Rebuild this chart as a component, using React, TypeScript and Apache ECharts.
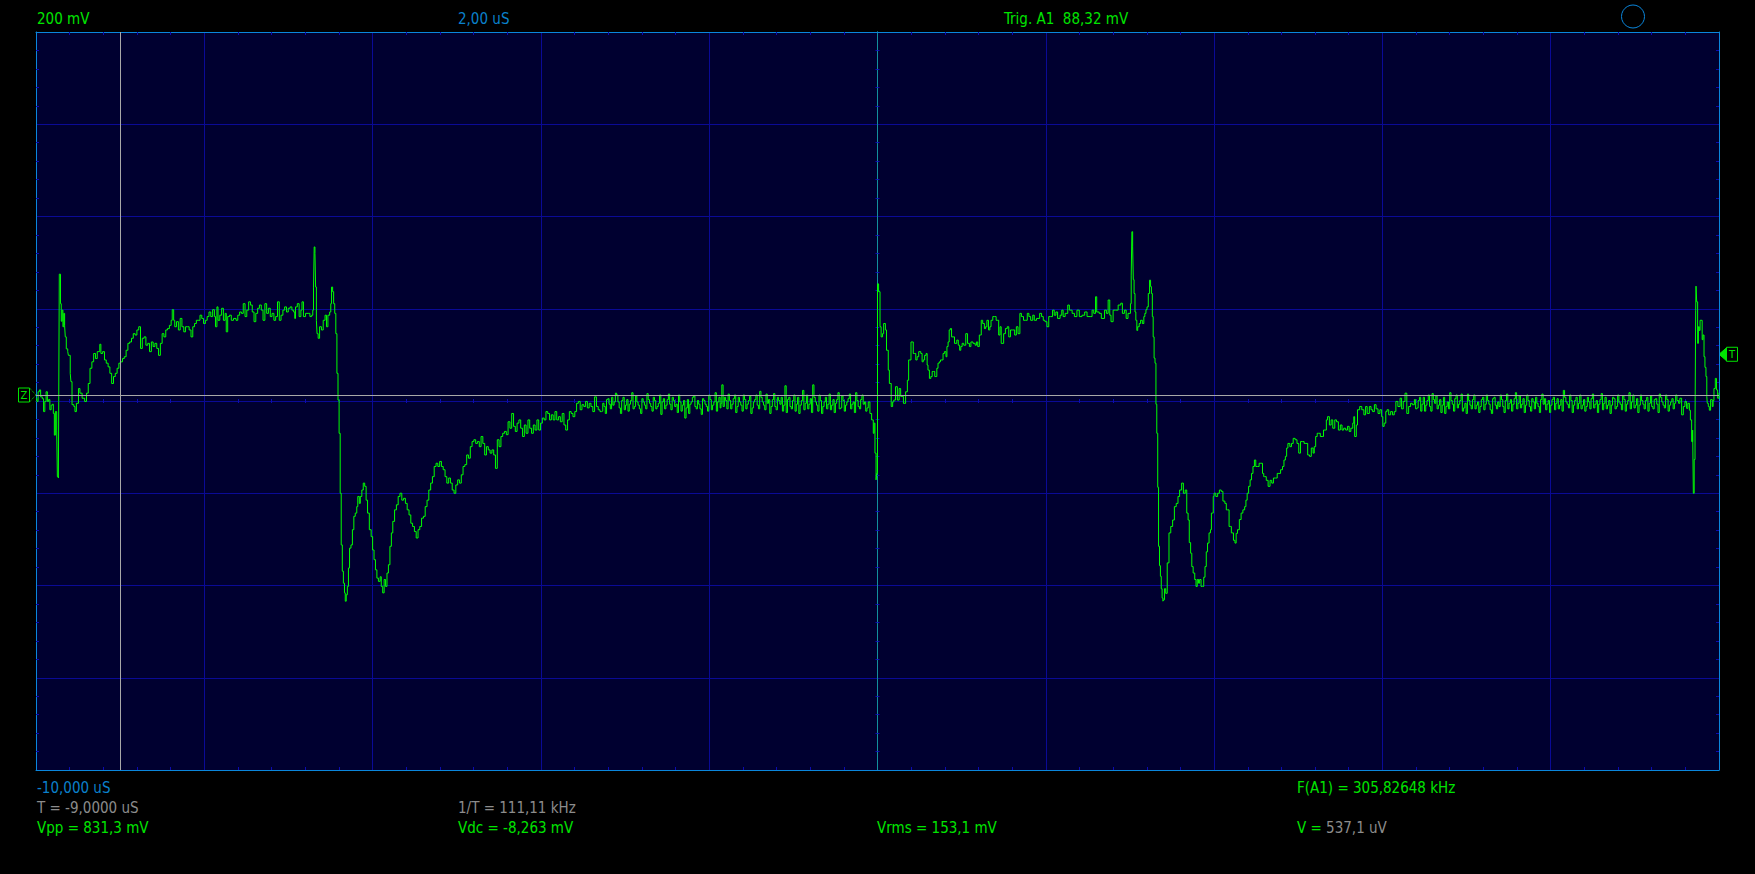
import React, { useEffect, useRef } from "react";
import * as echarts from "echarts";

type Pt = [number, number];

// ---- time base / vertical scale (oscilloscope settings) ----
const TIME_MIN = -10; // us
const TIME_MAX = 10;
const TIME_DIV = 2; // 2,00 uS / div
const VOLT_DIV = 200; // 200 mV / div
const VOLT_RANGE = 800; // 4 divisions each side of the screen centre
const CH_ZERO_OFFSET = 13; // mV: channel zero sits slightly above the screen centre
const CURSOR_T = -9; // us
const CURSOR_V = 0.5371; // mV
const TRIGGER_MV = 88.32;

// ---- trace (t in us, v in mV) ----
const preTrigger: Pt[] = [
  [-10.0, -8], [-9.99, -14], [-9.975, 7], [-9.96, 11], [-9.945, -4], [-9.925, -8], [-9.91, -36],
  [-9.895, -14], [-9.88, 7], [-9.865, -14], [-9.85, -10], [-9.835, -32], [-9.82, -22], [-9.805, -20],
  [-9.794, -40], [-9.782, -87], [-9.77, -36], [-9.754, -76], [-9.746, -177], [-9.734, -180], [-9.73, -14],
];

const firstPulse: Pt[] = [
  [-9.723, 262], [-9.709, 198], [-9.7, 160], [-9.69, 184], [-9.68, 148], [-9.67, 177], [-9.66, 150],
  [-9.652, 126], [-9.64, 100], [-9.623, 94], [-9.615, 86], [-9.593, 47], [-9.585, 29], [-9.572, -21],
  [-9.55, -25], [-9.537, -36], [-9.52, -18], [-9.495, 14], [-9.478, 4], [-9.452, -7], [-9.422, -14],
  [-9.4, 4], [-9.379, 25], [-9.358, 58], [-9.336, 72], [-9.315, 90], [-9.293, 79], [-9.272, 94],
  [-9.242, 110], [-9.229, 90], [-9.208, 94], [-9.186, 76], [-9.165, 69], [-9.143, 61], [-9.122, 47],
  [-9.101, 25], [-9.079, 40], [-9.058, 47], [-9.036, 58], [-9.015, 69], [-8.994, 72], [-8.972, 79],
  [-8.951, 83], [-8.929, 97], [-8.908, 112], [-8.887, 115], [-8.865, 123], [-8.844, 133], [-8.822, 130],
  [-8.801, 141], [-8.779, 148], [-8.758, 101], [-8.737, 123], [-8.715, 126], [-8.694, 108], [-8.672, 112],
  [-8.651, 94], [-8.629, 115], [-8.608, 105], [-8.587, 112], [-8.565, 101], [-8.544, 86], [-8.522, 112],
  [-8.501, 133], [-8.48, 126], [-8.458, 141], [-8.437, 144], [-8.415, 151], [-8.394, 162], [-8.381, 185],
  [-8.364, 162], [-8.351, 148], [-8.33, 159], [-8.308, 141], [-8.287, 166], [-8.266, 148], [-8.244, 137],
  [-8.223, 148], [-8.201, 148], [-8.18, 141], [-8.158, 126], [-8.137, 148], [-8.116, 155], [-8.094, 162],
  [-8.073, 162], [-8.051, 173], [-8.03, 166], [-8.009, 155], [-7.987, 162], [-7.966, 170], [-7.944, 180],
  [-7.923, 170], [-7.901, 185], [-7.88, 170], [-7.867, 148], [-7.85, 191], [-7.837, 162], [-7.816, 173],
  [-7.794, 188], [-7.773, 162], [-7.752, 177], [-7.739, 137], [-7.722, 170], [-7.7, 173], [-7.679, 162],
  [-7.653, 166], [-7.623, 162], [-7.602, 173], [-7.58, 180], [-7.559, 177], [-7.537, 198], [-7.516, 170],
  [-7.495, 184], [-7.473, 202], [-7.452, 195], [-7.43, 180], [-7.409, 159], [-7.388, 177], [-7.366, 188],
  [-7.345, 195], [-7.323, 184], [-7.302, 162], [-7.28, 198], [-7.259, 177], [-7.238, 188], [-7.216, 170],
  [-7.195, 177], [-7.173, 162], [-7.152, 170], [-7.13, 202], [-7.109, 162], [-7.088, 173], [-7.066, 184],
  [-7.045, 191], [-7.023, 180], [-7.002, 188], [-6.98, 191], [-6.959, 184], [-6.938, 180], [-6.925, 166],
  [-6.916, 191], [-6.895, 198], [-6.873, 170], [-6.852, 184], [-6.839, 202], [-6.822, 170], [-6.797, 177],
  [-6.766, 177], [-6.745, 170], [-6.724, 173], [-6.711, 184],
];

const firstEdge: Pt[] = [
  [-6.702, 234], [-6.694, 321], [-6.685, 307], [-6.677, 234], [-6.668, 162], [-6.66, 133], [-6.647, 123],
  [-6.63, 148], [-6.608, 141], [-6.587, 162], [-6.565, 173], [-6.548, 148], [-6.531, 173], [-6.51, 180],
  [-6.497, 198], [-6.488, 234], [-6.475, 224], [-6.463, 198], [-6.45, 177], [-6.437, 133], [-6.424, 47],
  [-6.411, -11], [-6.398, -83], [-6.385, -213], [-6.373, -325], [-6.36, -382], [-6.347, -408], [-6.334, -429],
  [-6.325, -447], [-6.313, -433], [-6.3, -415], [-6.287, -375], [-6.274, -332], [-6.257, -325], [-6.24, -292],
  [-6.223, -263], [-6.206, -256], [-6.188, -242], [-6.176, -220], [-6.158, -235], [-6.146, -220], [-6.128, -206],
  [-6.111, -191], [-6.094, -198], [-6.077, -228], [-6.06, -256], [-6.039, -292], [-6.017, -307], [-6.0, -336],
  [-5.983, -357], [-5.966, -379], [-5.949, -397], [-5.931, -404], [-5.91, -394], [-5.897, -415], [-5.88, -429],
  [-5.863, -400], [-5.846, -415], [-5.829, -386], [-5.812, -368], [-5.794, -328], [-5.777, -299], [-5.76, -274],
  [-5.739, -249], [-5.717, -238], [-5.696, -220], [-5.675, -213], [-5.653, -228], [-5.632, -224], [-5.61, -235],
  [-5.589, -249], [-5.567, -260], [-5.546, -278], [-5.525, -285], [-5.503, -296], [-5.482, -310], [-5.46, -292],
  [-5.439, -285], [-5.418, -267], [-5.396, -263], [-5.375, -242], [-5.353, -228], [-5.332, -206], [-5.31, -191],
  [-5.289, -177], [-5.268, -155], [-5.246, -148], [-5.225, -155], [-5.203, -144], [-5.182, -155], [-5.161, -162],
  [-5.139, -177], [-5.118, -191], [-5.096, -180], [-5.075, -191], [-5.054, -206], [-5.032, -213], [-5.011, -195],
  [-4.989, -184], [-4.968, -191], [-4.946, -173], [-4.925, -155], [-4.904, -151], [-4.882, -130], [-4.861, -137],
  [-4.839, -112], [-4.818, -101], [-4.797, -97], [-4.775, -105], [-4.754, -101], [-4.732, -112], [-4.711, -90],
  [-4.69, -105], [-4.668, -130], [-4.647, -112], [-4.625, -119], [-4.604, -126], [-4.582, -119], [-4.561, -130],
  [-4.54, -159], [-4.518, -97], [-4.497, -112], [-4.475, -90], [-4.454, -83], [-4.433, -79], [-4.411, -86],
  [-4.39, -58], [-4.368, -72], [-4.347, -40], [-4.325, -68], [-4.304, -79], [-4.283, -61], [-4.261, -54],
  [-4.24, -72], [-4.218, -90], [-4.197, -65], [-4.176, -83], [-4.154, -54], [-4.133, -72], [-4.111, -83],
  [-4.09, -65], [-4.069, -76], [-4.047, -54], [-4.026, -76], [-4.004, -61], [-3.983, -50], [-3.961, -54],
  [-3.94, -36], [-3.919, -40], [-3.897, -54], [-3.876, -43], [-3.854, -54], [-3.833, -36], [-3.812, -54],
  [-3.79, -47], [-3.769, -58], [-3.747, -40], [-3.726, -65], [-3.705, -76], [-3.683, -54], [-3.662, -36],
  [-3.64, -40], [-3.619, -47], [-3.597, -36], [-3.576, -18], [-3.555, -14], [-3.533, -32], [-3.512, -21],
  [-3.49, -25], [-3.469, -14], [-3.448, -28], [-3.426, -18], [-3.405, -25], [-3.383, -36], [-3.362, -4],
  [-3.34, -25], [-3.319, -32], [-3.298, -36],
];

const baseline1: Pt[] = [
  [-3.28, -35], [-3.25, -25], [-3.22, -10], [-3.19, -20], [-3.16, -5], [-3.13, -15], [-3.1, 0], [-3.07, -28],
  [-3.04, -12], [-3.01, -32], [-2.98, -10], [-2.95, -20], [-2.92, 5], [-2.89, -25], [-2.86, -15], [-2.83, -30],
  [-2.8, -8], [-2.77, -22], [-2.74, 3], [-2.71, -18], [-2.68, -35], [-2.65, -12], [-2.62, -25], [-2.59, 0],
  [-2.56, -15], [-2.53, -30], [-2.5, -10], [-2.47, -20], [-2.44, -5], [-2.41, -25], [-2.38, -38], [-2.35, -15],
  [-2.32, -22], [-2.29, -50], [-2.26, -10], [-2.23, -20], [-2.2, -5], [-2.17, -25], [-2.14, -12], [-2.11, -30],
  [-2.08, -8], [-2.05, -20], [-2.02, -35], [-1.99, -10], [-1.96, -22], [-1.93, 5], [-1.9, -15], [-1.87, -28],
  [-1.85, 22], [-1.82, -5], [-1.79, -30], [-1.76, -12], [-1.73, -20], [-1.7, 0], [-1.67, -25], [-1.64, -15],
  [-1.61, -35], [-1.58, -10], [-1.55, -20], [-1.52, -3], [-1.49, -28], [-1.46, -10], [-1.43, -22], [-1.4, 8],
  [-1.37, -15], [-1.34, -32], [-1.31, -18], [-1.28, -40], [-1.25, -10], [-1.22, -25], [-1.19, -5], [-1.16, -20],
  [-1.13, -35], [-1.1, 20], [-1.07, -10], [-1.04, -25], [-1.01, -12], [-0.98, -35], [-0.95, -5], [-0.92, -22],
  [-0.89, 10], [-0.86, -18], [-0.83, -30], [-0.8, -8], [-0.77, 22], [-0.74, -15], [-0.71, -35], [-0.68, -12],
  [-0.65, -25], [-0.62, -5], [-0.59, -20], [-0.56, -32], [-0.53, -10], [-0.5, -18], [-0.47, 5], [-0.44, -28],
  [-0.41, -12], [-0.38, -22], [-0.35, -8], [-0.32, -30], [-0.29, -15], [-0.26, 5], [-0.23, -25], [-0.2, -10],
  [-0.17, -20], [-0.14, -35], [-0.11, -15],
];

const baseline1Between: Pt[] = [
  [-3.265, -18], [-3.235, -40], [-3.205, -8], [-3.175, -30], [-3.145, -22], [-3.115, 4], [-3.085, -15],
  [-3.055, -40], [-3.025, -5], [-2.995, -22], [-2.965, -35], [-2.935, -12], [-2.905, -30], [-2.875, -2],
  [-2.845, -22], [-2.815, -40], [-2.785, -15], [-2.755, -30], [-2.725, -10], [-2.695, -25], [-2.665, -5],
  [-2.635, -30], [-2.605, -18], [-2.575, -42], [-2.545, -8], [-2.515, -22], [-2.485, 2], [-2.455, -32],
  [-2.425, -12], [-2.395, -20], [-2.365, 0], [-2.335, -35], [-2.305, -12], [-2.275, -28], [-2.245, -40],
  [-2.215, -15], [-2.185, -2], [-2.155, -30], [-2.125, -20], [-2.095, -42], [-2.065, -12], [-2.035, -25],
  [-2.005, 0], [-1.975, -32], [-1.945, -15], [-1.915, -35], [-1.885, -5], [-1.86, -18], [-1.835, -25],
  [-1.805, -12], [-1.775, 2], [-1.745, -30], [-1.715, -8], [-1.685, -38], [-1.655, -5], [-1.625, -22],
  [-1.595, 0], [-1.565, -30], [-1.535, -12], [-1.505, -40], [-1.475, -15], [-1.445, 0], [-1.415, -30],
  [-1.385, -5], [-1.355, -22], [-1.325, 2], [-1.295, -10], [-1.265, -25], [-1.235, 3], [-1.205, -32],
  [-1.175, -12], [-1.145, -5], [-1.115, -22], [-1.085, -38], [-1.055, -5], [-1.025, -30], [-0.995, 0],
  [-0.965, -20], [-0.935, -40], [-0.905, -12], [-0.875, -32], [-0.845, 0], [-0.815, -20], [-0.785, -38],
  [-0.755, -5], [-0.725, -22], [-0.695, 0], [-0.665, -40], [-0.635, -15], [-0.605, -30], [-0.575, 2],
  [-0.545, -22], [-0.515, -38], [-0.485, -10], [-0.455, -30], [-0.425, -2], [-0.395, -35], [-0.365, -15],
  [-0.335, 2], [-0.305, -20], [-0.275, -38], [-0.245, -12], [-0.215, -30], [-0.185, 0], [-0.155, -15],
  [-0.125, -28],
];

const secondPulse: Pt[] = [
  [-0.09, -40], [-0.07, -54], [-0.05, -83], [-0.04, -61], [-0.03, -126], [-0.017, -184], [-0.01, -170],
  [0.0, 241], [0.013, 224], [0.03, 148], [0.043, 126], [0.06, 133], [0.073, 155], [0.094, 141], [0.107, 97],
  [0.128, 54], [0.141, 25], [0.163, -25], [0.18, -15], [0.193, -11], [0.214, 18], [0.236, -11], [0.257, 14],
  [0.275, -3], [0.291, -3], [0.308, -18], [0.334, 7], [0.355, 32], [0.37, 76], [0.385, 76], [0.398, 115],
  [0.411, 115], [0.425, 90], [0.437, 90], [0.455, 76], [0.471, 83], [0.49, 94], [0.514, 90], [0.53, 72],
  [0.544, 76], [0.56, 86], [0.578, 90], [0.59, 65], [0.6, 54], [0.617, 36], [0.634, 40], [0.65, 51],
  [0.664, 51], [0.68, 40], [0.694, 40], [0.705, 58], [0.719, 69], [0.735, 72], [0.749, 76], [0.765, 76],
  [0.779, 90], [0.795, 94], [0.814, 83], [0.825, 105], [0.839, 115], [0.852, 141], [0.865, 144], [0.88, 126],
  [0.899, 126], [0.915, 112], [0.942, 119], [0.96, 108], [0.976, 97], [0.99, 105], [1.006, 112], [1.025, 108],
  [1.049, 133], [1.07, 112], [1.092, 105], [1.11, 115], [1.135, 112], [1.16, 108], [1.175, 115], [1.191, 105],
  [1.21, 130], [1.221, 130], [1.233, 162], [1.25, 155], [1.27, 144], [1.285, 148], [1.3, 162], [1.319, 141],
  [1.335, 148], [1.349, 162], [1.37, 170], [1.392, 170], [1.41, 162], [1.422, 162], [1.44, 130], [1.456, 148],
  [1.47, 112], [1.499, 133], [1.52, 144], [1.542, 148], [1.56, 126], [1.58, 141], [1.606, 141], [1.63, 130],
  [1.65, 148], [1.67, 133], [1.692, 177], [1.71, 170], [1.735, 162], [1.756, 162], [1.78, 177], [1.799, 170],
  [1.82, 162], [1.845, 173], [1.863, 162], [1.89, 166], [1.927, 177], [1.95, 170], [1.97, 162], [1.99, 159],
  [2.013, 148], [2.035, 170], [2.056, 170], [2.08, 184], [2.1, 173], [2.12, 180], [2.14, 166], [2.17, 173],
  [2.19, 184], [2.206, 170], [2.23, 177], [2.261, 195], [2.28, 184], [2.313, 177], [2.34, 170], [2.37, 184],
  [2.398, 170], [2.43, 173], [2.462, 180], [2.49, 170], [2.527, 170], [2.55, 184], [2.57, 177], [2.591, 213],
  [2.605, 180], [2.634, 177], [2.66, 166], [2.698, 184], [2.72, 177], [2.741, 206], [2.76, 173], [2.775, 159],
  [2.8, 184], [2.827, 184], [2.86, 195], [2.891, 199], [2.91, 177], [2.934, 184], [2.955, 166], [2.977, 177],
  [3.006, 198],
];

const secondEdge: Pt[] = [
  [3.015, 260], [3.023, 354], [3.032, 321], [3.04, 250], [3.049, 220], [3.06, 180], [3.07, 162], [3.082, 140],
  [3.092, 148], [3.11, 155], [3.126, 162], [3.147, 155], [3.165, 170], [3.177, 177], [3.19, 185], [3.203, 191],
  [3.218, 220], [3.233, 249], [3.245, 235], [3.255, 220], [3.266, 170], [3.276, 126], [3.287, 80], [3.298, 69],
  [3.309, -20], [3.319, -83], [3.33, -200], [3.34, -328], [3.351, -370], [3.362, -393], [3.372, -420],
  [3.382, -440], [3.392, -447], [3.4, -444], [3.41, -420], [3.425, -430], [3.443, -364], [3.464, -299],
  [3.485, -285], [3.507, -271], [3.528, -242], [3.55, -235], [3.571, -220], [3.59, -206], [3.614, -191],
  [3.635, -213], [3.657, -206], [3.675, -256], [3.691, -271], [3.705, -320], [3.721, -343], [3.735, -372],
  [3.751, -386], [3.77, -400], [3.785, -415], [3.8, -400], [3.815, -408], [3.828, -400], [3.845, -415],
  [3.862, -415], [3.877, -395], [3.892, -372], [3.907, -340], [3.922, -321], [3.94, -299], [3.957, -292],
  [3.968, -256], [3.978, -256], [3.99, -220], [3.999, -213], [4.02, -220], [4.042, -213], [4.063, -206],
  [4.085, -209], [4.105, -230], [4.128, -235], [4.145, -249], [4.162, -249], [4.178, -285], [4.192, -285],
  [4.205, -299], [4.214, -299], [4.23, -315], [4.248, -321], [4.262, -300], [4.278, -292], [4.3, -270],
  [4.321, -256], [4.342, -249], [4.363, -242], [4.378, -228], [4.393, -213], [4.41, -198], [4.428, -184],
  [4.445, -170], [4.462, -155], [4.479, -141], [4.495, -155], [4.513, -155], [4.535, -148], [4.556, -148],
  [4.575, -170], [4.59, -177], [4.599, -177], [4.62, -185], [4.642, -198], [4.665, -185], [4.685, -191],
  [4.705, -180], [4.727, -180], [4.75, -170], [4.77, -170], [4.79, -162], [4.813, -155], [4.83, -141],
  [4.847, -133], [4.862, -115], [4.877, -105], [4.9, -112], [4.92, -105], [4.94, -94], [4.963, -97],
  [4.985, -105], [5.006, -126], [5.027, -101], [5.049, -101], [5.07, -105], [5.091, -105], [5.112, -130],
  [5.134, -133], [5.155, -115], [5.177, -126], [5.19, -112], [5.207, -90], [5.225, -83], [5.241, -83],
  [5.262, -90], [5.284, -90], [5.3, -76], [5.319, -76], [5.334, -54], [5.348, -47], [5.37, -65], [5.391, -54],
  [5.41, -72], [5.434, -54], [5.455, -58], [5.477, -76], [5.5, -65], [5.52, -76], [5.54, -72], [5.563, -76],
  [5.585, -68], [5.605, -79], [5.625, -72], [5.648, -61], [5.66, -47], [5.67, -90], [5.69, -65], [5.704, -32],
  [5.73, -25], [5.755, -32], [5.78, -43], [5.8, -25], [5.819, -40], [5.845, -25], [5.865, -32], [5.884, -36],
  [5.905, -21], [5.925, -30], [5.948, -40], [5.97, -32], [5.991, -47], [6.005, -68], [6.021, -61], [6.04, -36],
  [6.055, -32], [6.075, -43], [6.098, -36], [6.12, -43], [6.141, -36], [6.16, -14], [6.184, -25], [6.21, -7],
  [6.228, -30], [6.248, -14], [6.269, 4], [6.29, -40], [6.312, -25], [6.335, -18], [6.355, -21],
];

const baseline2: Pt[] = [
  [6.38, -10], [6.41, -28], [6.44, -5], [6.47, -20], [6.5, -35], [6.53, -12], [6.56, -25], [6.59, 3],
  [6.62, -18], [6.65, -30], [6.68, -10], [6.71, -22], [6.74, -40], [6.77, -15], [6.8, 5], [6.83, -20],
  [6.86, -8], [6.89, -28], [6.92, -12], [6.95, -35], [6.98, -18], [7.01, 2], [7.04, -22], [7.07, -10],
  [7.1, -30], [7.13, -15], [7.16, -25], [7.19, -5], [7.22, -20], [7.25, -12], [7.28, -32], [7.31, -8],
  [7.34, -22], [7.37, -15], [7.4, 0], [7.43, -25], [7.46, -12], [7.49, -30], [7.52, -10], [7.55, -20],
  [7.58, 5], [7.61, -18], [7.64, -28], [7.67, -8], [7.7, -22], [7.73, -12], [7.76, -35], [7.79, -15],
  [7.82, -5], [7.85, -25], [7.88, -10], [7.91, -20], [7.94, -32], [7.97, -12], [8.0, -22], [8.03, -5],
  [8.06, -18], [8.09, -30], [8.12, -10], [8.15, 10], [8.18, -15], [8.21, -28], [8.24, -12], [8.27, -22],
  [8.3, -5], [8.33, -18], [8.36, -30], [8.39, -10], [8.42, -25], [8.45, -15], [8.48, -8], [8.51, -28],
  [8.54, -12], [8.57, -20], [8.6, 3], [8.63, -18], [8.66, -30], [8.69, -12], [8.72, -22], [8.75, -8],
  [8.78, -25], [8.81, -15], [8.84, -32], [8.87, -10], [8.9, -20], [8.93, 5], [8.96, -15], [8.99, -28],
  [9.02, -8], [9.05, -22], [9.08, -12], [9.11, -30], [9.14, -5], [9.17, -18], [9.2, -25], [9.23, -10],
  [9.26, -20], [9.29, 2], [9.32, -15], [9.35, -28], [9.38, -10], [9.41, -22], [9.44, -8], [9.47, -18],
  [9.5, -12],
];

const baseline2Between: Pt[] = [
  [6.395, -30], [6.425, -12], [6.455, -35], [6.485, -5], [6.515, -22], [6.545, 0], [6.575, -35], [6.605, -10],
  [6.635, -2], [6.665, -22], [6.695, -38], [6.725, -5], [6.755, -25], [6.785, -30], [6.815, -12], [6.845, -35],
  [6.875, 0], [6.905, -20], [6.935, 2], [6.965, -28], [6.995, -40], [7.025, -12], [7.055, -30], [7.085, 0],
  [7.115, -22], [7.145, -38], [7.175, -10], [7.205, -32], [7.235, 0], [7.265, -20], [7.295, -40], [7.325, -5],
  [7.355, -30], [7.385, -25], [7.415, -10], [7.445, -38], [7.475, 2], [7.505, -18], [7.535, -35], [7.565, -8],
  [7.595, -30], [7.625, -2], [7.655, -20], [7.685, -38], [7.715, 0], [7.745, -25], [7.775, -8], [7.805, -30],
  [7.835, -18], [7.865, -38], [7.895, 2], [7.925, -8], [7.955, -20], [7.985, -38], [8.015, -10], [8.045, -32],
  [8.075, -8], [8.105, -22], [8.135, -35], [8.165, -5], [8.195, -20], [8.225, 0], [8.255, -38], [8.285, -12],
  [8.315, -30], [8.345, 0], [8.375, -22], [8.405, -35], [8.435, -5], [8.465, -30], [8.495, 2], [8.525, -20],
  [8.555, -38], [8.585, -10], [8.615, -32], [8.645, -5], [8.675, -22], [8.705, -40], [8.735, -5], [8.765, -30],
  [8.795, 0], [8.825, -20], [8.855, -2], [8.885, -35], [8.915, -12], [8.945, -30], [8.975, 0], [9.005, -22],
  [9.035, -38], [9.065, 0], [9.095, -20], [9.125, -12], [9.155, -35], [9.185, -2], [9.215, -30], [9.245, -8],
  [9.275, -38], [9.305, -5], [9.335, -22], [9.365, 0], [9.395, -35], [9.425, -15], [9.455, -30], [9.485, 0],
];

const thirdPulse: Pt[] = [
  [9.52, -18], [9.535, -7], [9.556, -43], [9.576, -25], [9.595, -14], [9.615, -29], [9.63, -18], [9.648, -33],
  [9.66, -54], [9.675, -101], [9.687, -76], [9.695, -213], [9.705, -140], [9.715, -61], [9.723, 184],
  [9.727, 236], [9.735, 202], [9.746, 112], [9.755, 148], [9.765, 140], [9.775, 162], [9.786, 162],
  [9.8, 120], [9.81, 130], [9.822, 83], [9.833, 60], [9.845, 40], [9.855, -4], [9.861, -18], [9.873, -25],
  [9.885, -33], [9.9, -10], [9.92, -25], [9.93, -12], [9.94, 14], [9.956, 36], [9.97, 11], [9.984, -7],
  [10.0, 5],
];

const traceSegments: Pt[][] = [
  preTrigger, firstPulse, firstEdge, baseline1, baseline1Between, secondPulse, secondEdge, baseline2,
  baseline2Between, thirdPulse,
];

// ---- readouts ----
const topLabels = { volts: "200 mV", time: "2,00 uS", trig: "Trig. A1  88,32 mV" };
const readouts = {
  start: "-10,000 uS",
  period: "T = -9,0000 uS",
  freqCursor: "1/T = 111,11 kHz",
  freqA1: "F(A1) = 305,82648 kHz",
  vpp: "Vpp = 831,3 mV",
  vdc: "Vdc = -8,263 mV",
  vrms: "Vrms = 153,1 mV",
  vLabel: "V = ",
  vValue: "537,1 uV",
};

// ---- styling ----
const C = {
  page: "#000000",
  plot: "#000030",
  grid: "#0a0a96",
  tick: "#0c0cb0",
  border: "#0a86dc",
  trigLine: "#12909c",
  cursor: "#a8a8a8",
  trace: "#00ff00",
  green: "#00e400",
  blue: "#0a80cc",
  grey: "#8c8c8c",
};
const FONT = "'DejaVu Sans Condensed', 'DejaVu Sans', sans-serif";
const FS = 15;

const GRID = { left: 36, top: 32, width: 1683, height: 738 };

export default function App() {
  const ref = useRef<HTMLDivElement>(null);

  useEffect(() => {
    document.body.style.margin = "0";
    document.body.style.background = C.page;
    document.body.style.overflow = "hidden";
    const chart = echarts.init(ref.current!, undefined, { renderer: "svg" });

    const trace = traceSegments.flat().sort((a, b) => a[0] - b[0]);

    const borderX = (position: "top" | "bottom") => ({
      type: "value",
      min: TIME_MIN,
      max: TIME_MAX,
      interval: TIME_DIV,
      position,
      axisLine: { show: true, onZero: false, lineStyle: { color: C.border, width: 1 } },
      axisTick: { show: false, inside: true },
      minorTick: { show: true, splitNumber: 5, length: 3, lineStyle: { color: C.tick, width: 1 } },
      axisLabel: { show: false },
      splitLine: { show: position === "bottom", lineStyle: { color: C.grid, width: 1 } },
      minorSplitLine: { show: false },
    });
    const centreX = (inside: boolean) => ({
      type: "value",
      min: TIME_MIN,
      max: TIME_MAX,
      interval: TIME_DIV,
      position: "bottom",
      axisLine: { show: true, onZero: true, onZeroAxisIndex: 0, lineStyle: { color: C.grid, width: 1 } },
      axisTick: { show: false, inside },
      minorTick: { show: true, splitNumber: 5, length: 2, lineStyle: { color: C.tick, width: 1 } },
      axisLabel: { show: false },
      splitLine: { show: false },
    });
    const borderY = (position: "left" | "right") => ({
      type: "value",
      min: -VOLT_RANGE,
      max: VOLT_RANGE,
      interval: VOLT_DIV,
      position,
      axisLine: { show: true, onZero: false, lineStyle: { color: C.border, width: 1 } },
      axisTick: { show: false, inside: true },
      minorTick: { show: true, splitNumber: 5, length: 3, lineStyle: { color: C.tick, width: 1 } },
      axisLabel: { show: false },
      splitLine: { show: position === "left", lineStyle: { color: C.grid, width: 1 } },
    });
    const centreY = (inside: boolean) => ({
      type: "value",
      min: -VOLT_RANGE,
      max: VOLT_RANGE,
      interval: VOLT_DIV,
      position: "left",
      axisLine: { show: true, onZero: true, onZeroAxisIndex: 0, lineStyle: { color: C.trigLine, width: 1 } },
      axisTick: { show: false, inside },
      minorTick: { show: true, splitNumber: 5, length: 2, lineStyle: { color: C.tick, width: 1 } },
      axisLabel: { show: false },
      splitLine: { show: false },
    });

    chart.setOption({
      animation: false,
      backgroundColor: C.page,
      grid: { ...GRID, show: true, backgroundColor: C.plot, borderWidth: 0, containLabel: false },
      xAxis: [borderX("bottom"), borderX("top"), centreX(false), centreX(true)],
      yAxis: [
        borderY("left"),
        borderY("right"),
        centreY(false),
        centreY(true),
        {
          type: "value",
          min: -VOLT_RANGE - CH_ZERO_OFFSET,
          max: VOLT_RANGE - CH_ZERO_OFFSET,
          show: false,
        },
      ],
      series: [
        {
          type: "line",
          xAxisIndex: 0,
          yAxisIndex: 4,
          data: [],
          silent: true,
          z: 1,
          markLine: {
            silent: true,
            symbol: ["none", "none"],
            label: { show: false },
            lineStyle: { color: C.cursor, type: "solid", width: 1 },
            data: [{ xAxis: CURSOR_T }, { yAxis: CURSOR_V }],
          },
        },
        {
          type: "line",
          xAxisIndex: 0,
          yAxisIndex: 4,
          data: trace,
          step: "end",
          showSymbol: false,
          symbol: "none",
          silent: true,
          z: 3,
          lineStyle: { color: C.trace, width: 1 },
        },
      ],
    });

    const zeroY = chart.convertToPixel({ yAxisIndex: 4 }, 0) as number;
    const trigY = chart.convertToPixel({ yAxisIndex: 4 }, TRIGGER_MV) as number;
    const plotL = GRID.left;
    const plotR = GRID.left + GRID.width;
    const mid = (baseline: number) => baseline - 5.6;
    const txt = (x: number, base: number, text: string, fill: string) => ({
      type: "text",
      x,
      y: mid(base),
      silent: true,
      style: { text, fill, font: `${FS}px ${FONT}`, verticalAlign: "middle", align: "left" },
    });

    chart.setOption({
      graphic: [
        txt(37, 25, topLabels.volts, C.green),
        txt(458, 25, topLabels.time, C.blue),
        txt(1004, 25, topLabels.trig, C.green),
        {
          type: "circle",
          silent: true,
          shape: { cx: 1633, cy: 16.5, r: 11.5 },
          style: { fill: "none", stroke: C.border, lineWidth: 1 },
        },
        txt(37, 794, readouts.start, C.blue),
        txt(37, 814, readouts.period, C.grey),
        txt(37, 834, readouts.vpp, C.green),
        txt(458, 814, readouts.freqCursor, C.grey),
        txt(458, 834, readouts.vdc, C.green),
        txt(877, 834, readouts.vrms, C.green),
        txt(1297, 794, readouts.freqA1, C.green),
        {
          type: "text",
          x: 1297,
          y: mid(834),
          silent: true,
          style: {
            text: `{g|${readouts.vLabel}}{d|${readouts.vValue}}`,
            font: `${FS}px ${FONT}`,
            verticalAlign: "middle",
            rich: {
              g: { fill: C.green, font: `${FS}px ${FONT}` },
              d: { fill: C.grey, font: `${FS}px ${FONT}` },
            },
          },
        },
        // channel zero marker
        {
          type: "group",
          silent: true,
          children: [
            {
              type: "rect",
              shape: { x: 18.5, y: zeroY - 7, width: 11, height: 14 },
              style: { fill: "none", stroke: C.green, lineWidth: 1 },
            },
            {
              type: "polyline",
              shape: { points: [[29.5, zeroY - 7], [plotL, zeroY], [29.5, zeroY + 7]] },
              style: { fill: "none", stroke: C.green, lineWidth: 1, lineDash: [1, 1] },
            },
            {
              type: "text",
              x: 24,
              y: zeroY + 0.5,
              style: {
                text: "Z",
                fill: C.green,
                font: `11px ${FONT}`,
                align: "center",
                verticalAlign: "middle",
              },
            },
          ],
        },
        // trigger level marker
        {
          type: "group",
          silent: true,
          children: [
            {
              type: "polygon",
              shape: { points: [[plotR, trigY], [plotR + 7, trigY - 6], [plotR + 7, trigY + 6]] },
              style: { fill: C.green, stroke: C.green, lineWidth: 1 },
            },
            {
              type: "rect",
              shape: { x: plotR + 7.5, y: trigY - 7, width: 11, height: 14 },
              style: { fill: "none", stroke: C.green, lineWidth: 1 },
            },
            {
              type: "text",
              x: plotR + 13,
              y: trigY + 0.5,
              style: {
                text: "T",
                fill: C.green,
                font: `11px ${FONT}`,
                align: "center",
                verticalAlign: "middle",
              },
            },
          ],
        },
      ],
    });

    return () => chart.dispose();
  }, []);

  return <div ref={ref} style={{ width: 1755, height: 874, background: C.page }} />;
}
